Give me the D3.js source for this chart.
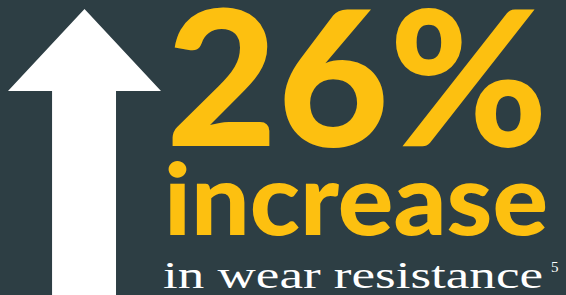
<!DOCTYPE html>
<html><head><meta charset="utf-8">
<script src="https://cdn.jsdelivr.net/npm/d3@7"></script>
<style>html,body{margin:0;padding:0;background:#2d3e44;}svg{display:block;}</style>
</head><body>
<script>
const values = [26];
const unitLabels = ["%"];
const headlines = ["increase"];
const subtitles = ["in wear resistance"];
const footnotes = ["5"];

const W = 566, H = 295;
const svg = d3.select("body").append("svg").attr("width", W).attr("height", H);
svg.append("rect").attr("width", W).attr("height", H).attr("fill", "#2d3e44");

// arrow geometry via scales (unit coordinates -> pixels)
const ax = d3.scaleLinear().domain([0, 1]).range([8, 161]);
const ay = d3.scaleLinear().domain([0, 1]).range([9, 296]);
const arrowPts = [[0.5,0],[1,0.286],[0.706,0.286],[0.706,1],[0.288,1],[0.288,0.286],[0,0.286]];
svg.append("path")
  .attr("d", d3.line().x(d => ax(d[0])).y(d => ay(d[1]))(arrowPts) + "Z")
  .attr("fill", "#ffffff");

const yellow = "#fdc010";
svg.append("text")
  .attr("x", 166).attr("y", 146)
  .attr("font-family", "Lato").attr("font-weight", 900)
  .attr("font-size", 188).attr("fill", yellow)
  .attr("textLength", 382).attr("lengthAdjust", "spacingAndGlyphs")
  .text(values[0] + unitLabels[0]);

svg.append("text")
  .attr("x", 164).attr("y", 235)
  .attr("font-family", "Lato").attr("font-weight", 900)
  .attr("font-size", 100).attr("fill", yellow)
  .attr("textLength", 384).attr("lengthAdjust", "spacingAndGlyphs")
  .text(headlines[0]);

svg.append("text")
  .attr("x", 163).attr("y", 288)
  .attr("font-family", "Liberation Serif")
  .attr("font-size", 37).attr("fill", "#ffffff")
  .attr("textLength", 380).attr("lengthAdjust", "spacingAndGlyphs")
  .text(subtitles[0]);
svg.append("text")
  .attr("x", 551).attr("y", 272)
  .attr("font-family", "Liberation Serif")
  .attr("font-size", 15).attr("fill", "#ffffff")
  .text(footnotes[0]);
</script>
</body></html>
